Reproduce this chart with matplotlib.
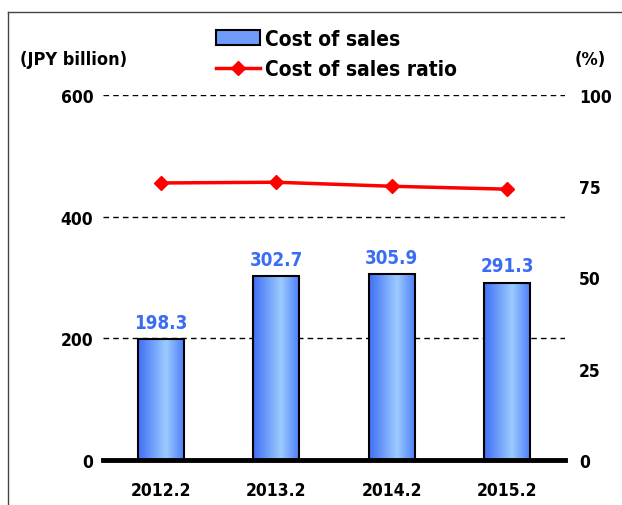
import matplotlib
matplotlib.use('Agg')
import matplotlib.pyplot as plt
import matplotlib.lines as mlines
import matplotlib.patches as mpatches
from matplotlib.colors import LinearSegmentedColormap
import numpy as np

plt.rcParams['font.family'] = ['DejaVu Sans']
plt.rcParams['font.stretch'] = 'condensed'
plt.rcParams['font.weight'] = 'bold'

years = ["2012.2", "2013.2", "2014.2", "2015.2"]
cost_of_sales = [198.3, 302.7, 305.9, 291.3]
cost_ratio = [75.9, 76.1, 75.0, 74.2]

LABEL_BLUE = "#3a6cf4"
W, H = 622, 506

fig = plt.figure(figsize=(W / 100, H / 100), dpi=100)
ax = fig.add_axes([103 / W, 1 - 461 / H, (565 - 103) / W, (461 - 96) / H])
ax2 = ax.twinx()

x = np.arange(len(years))
bars = ax.bar(x, cost_of_sales, width=0.4, color='none', edgecolor='black',
              linewidth=1.5, zorder=3)

# horizontal gradient fill inside each bar
grad_cmap = LinearSegmentedColormap.from_list(
    "barblue", [(0, "#3f6ff5"), (0.6, "#9ccbff"), (1, "#4a7cf7")])
grad = np.linspace(0, 1, 256).reshape(1, -1)
for b in bars:
    x0, w, h = b.get_x(), b.get_width(), b.get_height()
    im = ax.imshow(grad, cmap=grad_cmap, aspect='auto',
                   extent=[x0, x0 + w, 0, h], zorder=2)
    im.set_clip_path(b)

for xi, v in zip(x, cost_of_sales):
    ax.text(xi, v + 12, f"{v:.1f}", ha='center', va='bottom', color=LABEL_BLUE,
            fontsize=13.5, fontweight='bold')

ax2.plot(x, cost_ratio, color='#ff0000', linewidth=2.5, marker='D',
         markersize=7, zorder=4)

ax.set_xlim(-0.5, 3.5)
ax.set_ylim(0, 600)
ax.set_yticks([0, 200, 400, 600])
ax2.set_ylim(0, 100)
ax2.set_yticks([0, 25, 50, 75, 100])
ax.set_xticks(x)
ax.set_xticklabels(years)

for a in (ax, ax2):
    for s in a.spines.values():
        s.set_visible(False)
    a.tick_params(length=0, labelsize=12.5)
ax.tick_params(axis='y', pad=7)
ax2.tick_params(axis='y', pad=10)
ax.tick_params(axis='x', pad=15)
ax.spines['bottom'].set_visible(True)
ax.spines['bottom'].set_linewidth(3.5)
ax.spines['bottom'].set_zorder(5)

for yv in [200, 400, 600]:
    ax.axhline(yv, color='black', linestyle=(0, (4, 3)), linewidth=1.0, zorder=1)

ax.set_zorder(ax2.get_zorder() - 1)
ax2.patch.set_visible(False)

fig.text(20 / W, 1 - 60 / H, "(JPY billion)", ha='left', va='center', fontsize=13)
fig.text(606 / W, 1 - 60 / H, "(%)", ha='right', va='center', fontsize=13)

# legend
bar_handle = mpatches.Patch(facecolor='#6f9cfb', edgecolor='black', linewidth=1.5)
line_handle = mlines.Line2D([], [], color='#ff0000', linewidth=2.5, marker='D',
                            markersize=7)
fig.legend([bar_handle, line_handle], ["Cost of sales", "Cost of sales ratio"],
           loc='center left', bbox_to_anchor=(206 / W, 1 - 55 / H), frameon=False,
           fontsize=15, handlelength=2.1, handletextpad=0.25, labelspacing=0.5,
           borderpad=0)

# outer frame
fig.add_artist(mlines.Line2D([8 / W, 1], [1 - 13 / H, 1 - 13 / H],
                             color='#444444', linewidth=1.0))
fig.add_artist(mlines.Line2D([8 / W, 8 / W], [0, 1 - 13 / H],
                             color='#444444', linewidth=1.0))

fig.savefig("out.png", dpi=100)
